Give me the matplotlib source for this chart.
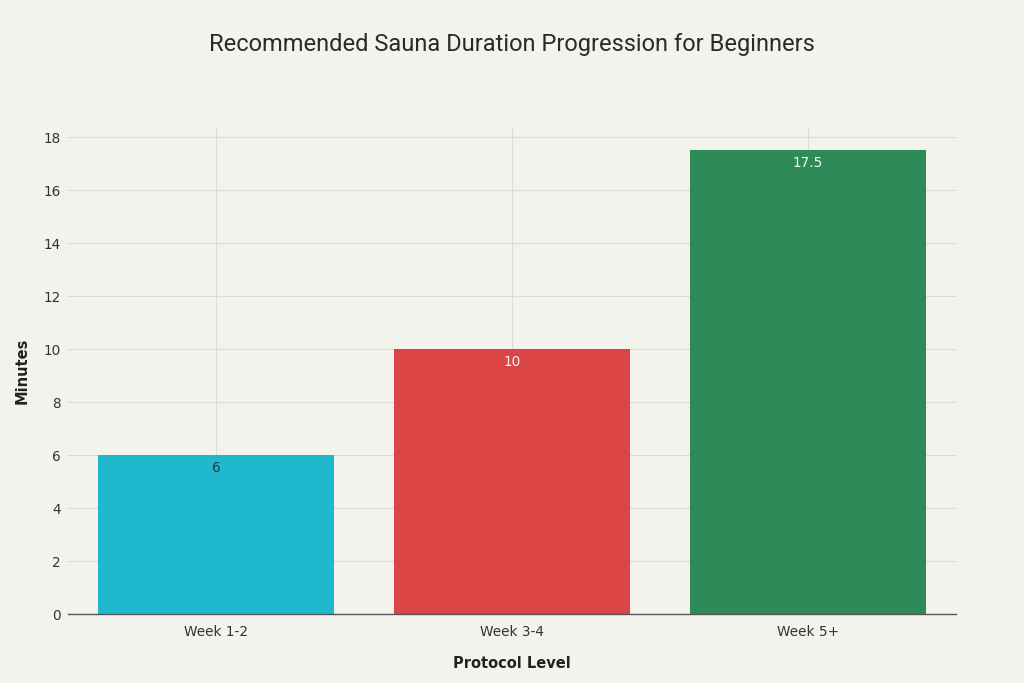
import matplotlib
matplotlib.use("Agg")
import matplotlib.pyplot as plt

plt.rcParams["font.family"] = ["DejaVu Sans"]

categories = ["Week 1-2", "Week 3-4", "Week 5+"]
minutes = [6, 10, 17.5]
bar_colors = ["#1FB8CD", "#DB4545", "#2E8B57"]
label_colors = ["#1f3a4a", "#f5f5f5", "#f5f5f5"]
y_ticks = [0, 2, 4, 6, 8, 10, 12, 14, 16, 18]

bg = "#F3F3EE"
fig = plt.figure(figsize=(10.24, 6.83), dpi=100, facecolor=bg)
ax = fig.add_axes([68/1024, 69/683, 888/1024, 487/683], facecolor=bg)

x = list(range(len(categories)))
ax.bar(x, minutes, width=0.8, color=bar_colors, zorder=2)

for xi, v, c in zip(x, minutes, label_colors):
    ax.annotate(f"{v:g}", (xi, v), xytext=(0, -4), textcoords="offset points",
                ha="center", va="top", color=c, fontsize=9.8, zorder=3)

ax.set_xlim(-0.5, 2.5)
ax.set_ylim(0, 18.38)
ax.set_yticks(y_ticks)
ax.set_xticks(x)
ax.set_xticklabels(categories)
ax.tick_params(axis="both", length=0, labelsize=9.8, colors="#333333")
ax.tick_params(axis="y", pad=5)
ax.tick_params(axis="x", pad=8)

ax.grid(True, color="#DADAD6", linewidth=0.8, zorder=0)
for s in ["top", "right", "left"]:
    ax.spines[s].set_visible(False)
ax.spines["bottom"].set_color("#555555")
ax.spines["bottom"].set_linewidth(1.0)
ax.spines["bottom"].set_zorder(3)

ax.set_ylabel("Minutes", fontsize=10.5, fontweight="bold", color="#222222", labelpad=10)
ax.set_xlabel("Protocol Level", fontsize=10.5, fontweight="bold", color="#222222", labelpad=12)

fig.text(0.5, 1 - 45/683, "Recommended Sauna Duration Progression for Beginners",
         ha="center", va="center", fontsize=17, color="#2a2a2a", family="Roboto")

fig.savefig("out.png", dpi=100, facecolor=bg)
